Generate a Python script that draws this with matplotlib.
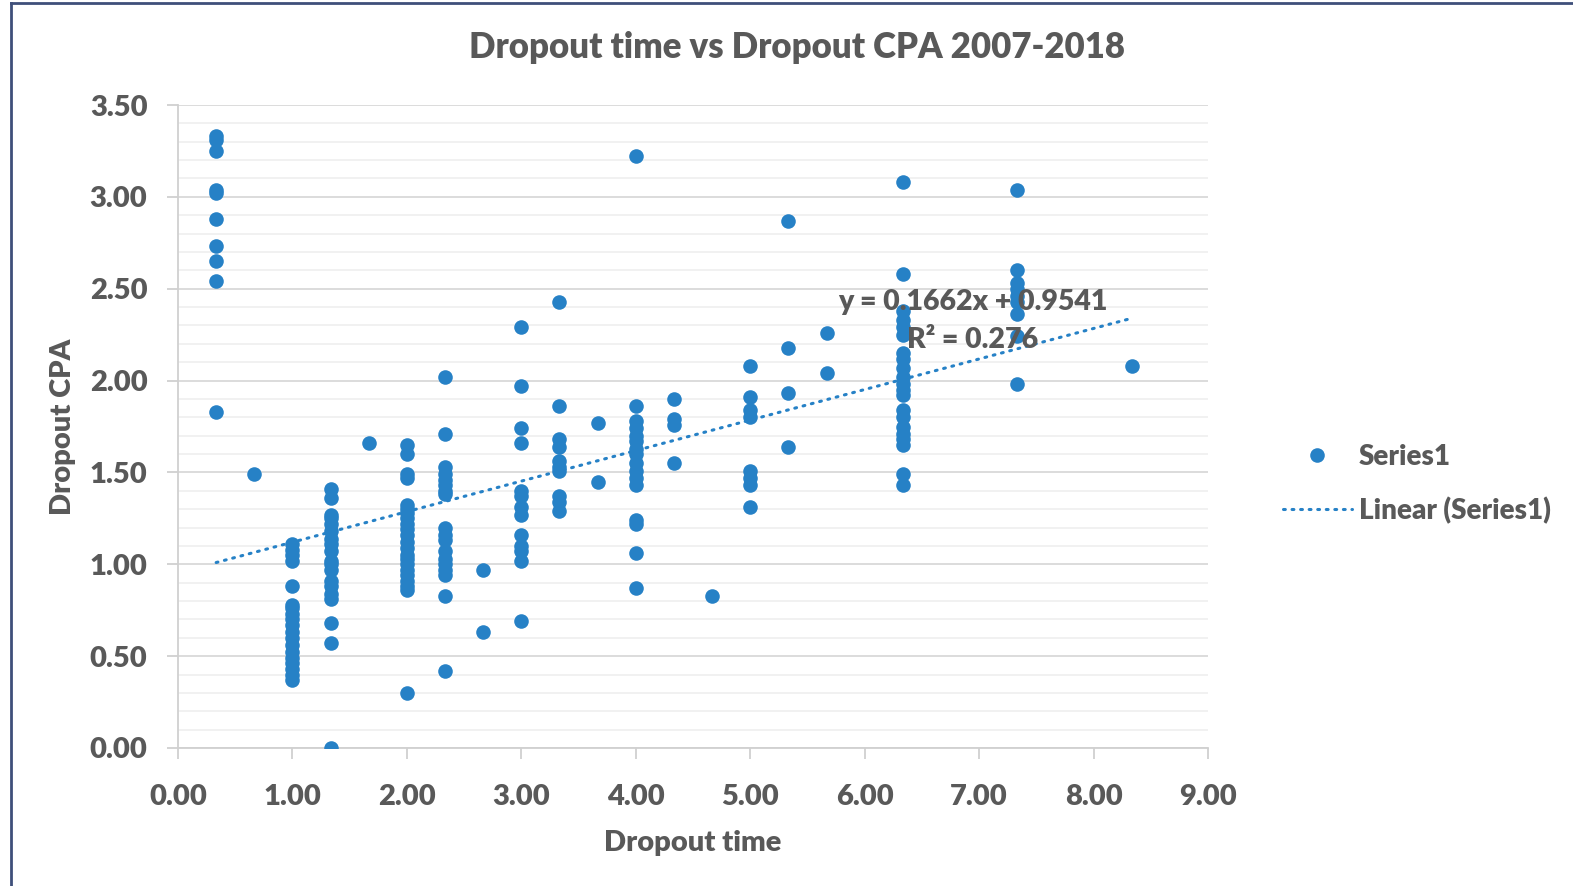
import matplotlib
matplotlib.use("Agg")
import matplotlib.pyplot as plt
from matplotlib.ticker import MultipleLocator, FormatStrFormatter
from matplotlib.lines import Line2D
import numpy as np

# ---------------- data ----------------
t03 = [3.33, 3.31, 3.25, 3.04, 3.02, 2.88, 2.73, 2.65, 2.54, 1.83]
t07 = [1.49]
t10 = [1.11, 1.08, 1.05, 1.02, 0.88, 0.78, 0.76, 0.73, 0.70, 0.67, 0.63,
       0.60, 0.56, 0.52, 0.49, 0.46, 0.43, 0.40, 0.37]
t13 = [1.41, 1.36, 1.27, 1.25, 1.22, 1.18, 1.14, 1.11, 1.07, 1.02, 1.00,
       0.97, 0.91, 0.88, 0.84, 0.81, 0.68, 0.57, 0.00]
t17 = [1.66]
t20 = [1.65, 1.60, 1.49, 1.47, 1.32, 1.30, 1.28, 1.25, 1.22, 1.19, 1.16,
       1.12, 1.09, 1.05, 1.03, 1.00, 0.97, 0.94, 0.91, 0.88, 0.86, 0.30]
t23 = [2.02, 1.71, 1.53, 1.49, 1.46, 1.43, 1.40, 1.38, 1.20, 1.16, 1.13,
       1.07, 1.03, 1.00, 0.97, 0.94, 0.83, 0.42]
t27 = [0.97, 0.63]
t30 = [2.29, 1.97, 1.74, 1.66, 1.40, 1.37, 1.31, 1.27, 1.16, 1.10, 1.07,
       1.02, 0.69]
t33 = [2.43, 1.86, 1.68, 1.64, 1.56, 1.53, 1.51, 1.37, 1.34, 1.29]
t37 = [1.77, 1.45]
t40 = [3.22, 1.86, 1.78, 1.74, 1.70, 1.67, 1.63, 1.60, 1.55, 1.51, 1.47,
       1.43, 1.24, 1.22, 1.06, 0.87]
t43 = [1.90, 1.79, 1.76, 1.55]
t47 = [0.83]
t50 = [2.08, 1.91, 1.84, 1.80, 1.51, 1.47, 1.43, 1.31]
t53 = [2.87, 2.18, 1.93, 1.64]
t57 = [2.26, 2.04]
t63 = [3.08, 2.58, 2.38, 2.33, 2.29, 2.25, 2.15, 2.12, 2.07, 2.02, 1.98,
       1.95, 1.92, 1.84, 1.80, 1.75, 1.71, 1.68, 1.65, 1.49, 1.43]
t73 = [3.04, 2.60, 2.53, 2.50, 2.46, 2.43, 2.36, 2.24, 1.98]
t83 = [2.08]

dropout_times = [1/3, 2/3, 1.0, 4/3, 5/3, 2.0, 7/3, 8/3, 3.0, 10/3, 11/3,
                 4.0, 13/3, 14/3, 5.0, 16/3, 17/3, 19/3, 22/3, 25/3]
cpa_groups = [t03, t07, t10, t13, t17, t20, t23, t27, t30, t33, t37,
              t40, t43, t47, t50, t53, t57, t63, t73, t83]

trend_slope = 0.1662
trend_intercept = 0.9541
trend_r2 = 0.276

title = "Dropout time vs Dropout CPA 2007-2018"
x_label = "Dropout time"
y_label = "Dropout CPA"

# ---------------- style ----------------
BLUE = "#2681c6"
GRAY_TXT = "#595959"
FONT = ["Lato", "DejaVu Sans"]
plt.rcParams["font.family"] = FONT
plt.rcParams["font.weight"] = "bold"

W, H = 1573, 886
fig = plt.figure(figsize=(W / 100, H / 100), dpi=100)
ax = fig.add_axes([178 / W, 1 - 748 / H, (1208 - 178) / W, (748 - 105) / H])

xs = []
ys = []
for t, g in zip(dropout_times, cpa_groups):
    xs.extend([t] * len(g))
    ys.extend(g)
xs = np.array(xs)
ys = np.array(ys)

ax.scatter(xs, ys, s=110, color=BLUE, zorder=3, linewidths=0)

x0, x1 = min(dropout_times), max(dropout_times)
xl = np.array([x0, x1])
ax.plot(xl, trend_slope * xl + trend_intercept, color=BLUE, lw=2.2,
        linestyle=(0, (0.6, 2.2)), dash_capstyle="round", zorder=4)

ax.text(6.945, 2.43, f"y = {trend_slope:.4f}x + {trend_intercept:.4f}",
        ha="center", va="center", fontsize=20.5, color=GRAY_TXT,
        fontweight="heavy", zorder=5)
ax.text(6.945, 2.22, f"R² = {trend_r2:.3f}",
        ha="center", va="center", fontsize=20.5, color=GRAY_TXT,
        fontweight="heavy", zorder=5)

ax.set_xlim(0, 9)
ax.set_ylim(0, 3.5)
ax.xaxis.set_major_locator(MultipleLocator(1))
ax.yaxis.set_major_locator(MultipleLocator(0.5))
ax.yaxis.set_minor_locator(MultipleLocator(0.1))
ax.xaxis.set_major_formatter(FormatStrFormatter("%.2f"))
ax.yaxis.set_major_formatter(FormatStrFormatter("%.2f"))

ax.grid(axis="y", which="major", color="#d9d9d9", lw=1.3, zorder=0)
ax.grid(axis="y", which="minor", color="#f0f0f0", lw=1.3, zorder=0)
ax.set_axisbelow(True)

for s in ["top", "right"]:
    ax.spines[s].set_visible(False)
for s in ["left", "bottom"]:
    ax.spines[s].set_color("#d0d0d0")
    ax.spines[s].set_linewidth(1.3)

ax.tick_params(axis="x", which="major", length=8, width=1.3, color="#d0d0d0",
               labelsize=21, labelcolor=GRAY_TXT, pad=18)
ax.tick_params(axis="y", which="major", length=8, width=1.3, color="#d0d0d0",
               labelsize=21, labelcolor=GRAY_TXT, pad=14)
ax.tick_params(axis="y", which="minor", length=0)
for lab in ax.get_xticklabels() + ax.get_yticklabels():
    lab.set_fontweight("heavy")

ax.set_xlabel(x_label, fontsize=21, color=GRAY_TXT, fontweight="heavy", labelpad=14)
ax.set_ylabel(y_label, fontsize=21, color=GRAY_TXT, fontweight="heavy", labelpad=10)

fig.text(797 / W, 1 - 47 / H, title, ha="center", va="center",
         fontsize=25, color=GRAY_TXT, fontweight="heavy")

handles = [
    Line2D([], [], marker="o", linestyle="none", color=BLUE, markersize=10.5,
           markeredgewidth=0),
    Line2D([], [], color=BLUE, lw=2.2, linestyle=(0, (0.6, 2.2)),
           dash_capstyle="round"),
]
leg = fig.legend(handles, ["Series1", "Linear (Series1)"],
                 loc="center left", bbox_to_anchor=(1277 / W, 1 - 484 / H),
                 frameon=False, fontsize=20, handlelength=2.5,
                 handletextpad=0.25, labelspacing=0.95, borderpad=0.2,
                 borderaxespad=0.0)
for txt in leg.get_texts():
    txt.set_color(GRAY_TXT)
    txt.set_fontweight("heavy")

# figure border (left and top visible in the reference)
fig.add_artist(Line2D([11 / W, 11 / W], [0, 1 - 3 / H], transform=fig.transFigure,
                      color="#3f4f7a", lw=2))
fig.add_artist(Line2D([11 / W, 1], [1 - 3 / H, 1 - 3 / H], transform=fig.transFigure,
                      color="#3f4f7a", lw=2))

fig.savefig("out.png", dpi=100)
